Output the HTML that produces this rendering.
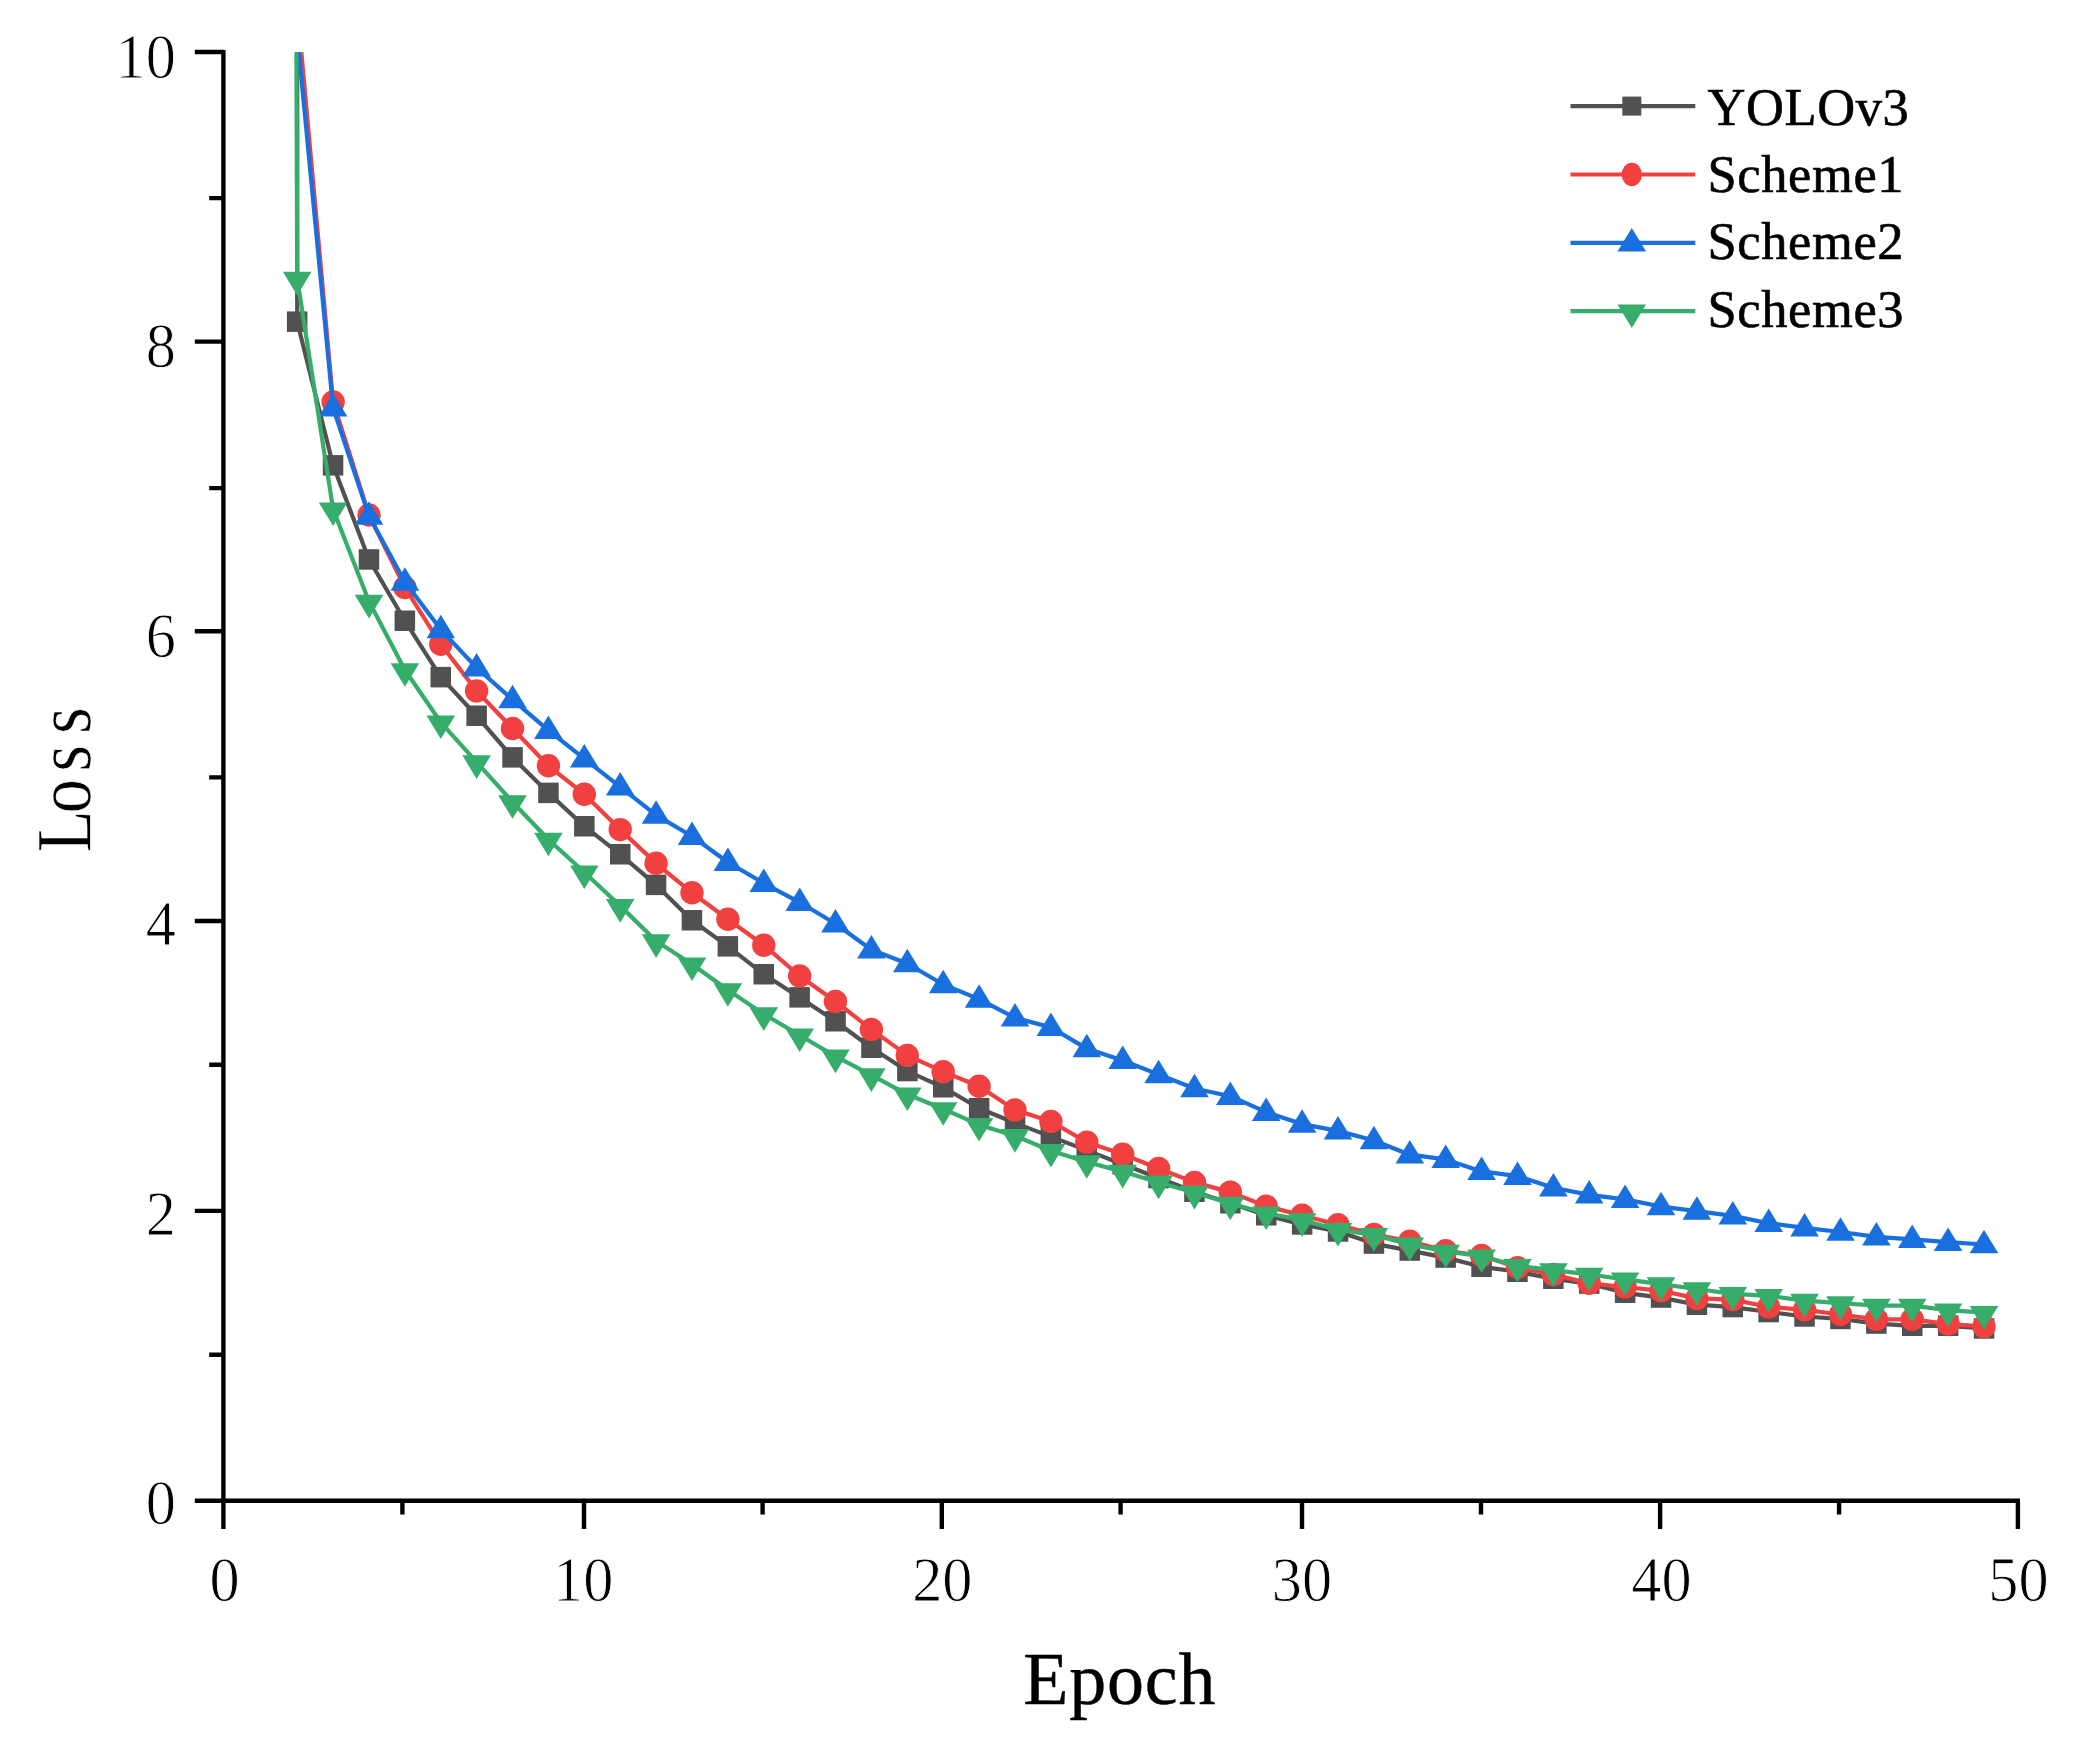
<!DOCTYPE html>
<html lang="en"><head><meta charset="utf-8"><title>Loss vs Epoch</title>
<style>html,body{margin:0;padding:0;background:#fff}body{width:2078px;height:1752px;overflow:hidden}svg{display:block}text{font-family:"Liberation Serif","Times New Roman",serif;fill:#000}</style>
</head><body>
<svg width="2078" height="1752" viewBox="0 0 2078 1752">
<rect width="2078" height="1752" fill="#fff"/>
<g fill="#515151" stroke="none">
<polyline points="297.2,52.2 297.2,321.7 333.1,465.3 369,559.5 404.9,620.8 440.8,677.1 476.6,715.8 512.5,757.4 548.4,792.9 584.3,826.2 620.2,854.3 656.1,884.9 692,920.2 727.9,946.4 763.8,974.2 799.7,997.4 835.5,1021.2 871.4,1047.7 907.3,1071.1 943.2,1087.3 979.1,1108.3 1015,1123 1050.9,1136.6 1086.8,1150.4 1122.7,1164.2 1158.6,1178 1194.5,1191.7 1230.3,1203.2 1266.2,1215.3 1302.1,1224.4 1338,1231.5 1373.9,1243.6 1409.8,1250.6 1445.7,1257.6 1481.6,1266.8 1517.5,1271.7 1553.4,1278.8 1589.2,1283.6 1625.1,1292.8 1661,1297.6 1696.9,1304.7 1732.8,1307.1 1768.7,1312 1804.6,1316.5 1840.5,1318.9 1876.4,1323.6 1912.2,1325.8 1948.1,1325.8 1984,1328.4" fill="none" stroke="#515151" stroke-width="4.2" stroke-linejoin="round"/>
<rect x="286.9" y="311.4" width="20.5" height="20.5"/><rect x="322.8" y="455.1" width="20.5" height="20.5"/><rect x="358.7" y="549.2" width="20.5" height="20.5"/><rect x="394.6" y="610.5" width="20.5" height="20.5"/><rect x="430.5" y="666.9" width="20.5" height="20.5"/><rect x="466.4" y="705.5" width="20.5" height="20.5"/><rect x="502.3" y="747.1" width="20.5" height="20.5"/><rect x="538.2" y="782.6" width="20.5" height="20.5"/><rect x="574.1" y="816" width="20.5" height="20.5"/><rect x="610" y="844" width="20.5" height="20.5"/><rect x="645.8" y="874.6" width="20.5" height="20.5"/><rect x="681.7" y="910" width="20.5" height="20.5"/><rect x="717.6" y="936.1" width="20.5" height="20.5"/><rect x="753.5" y="964" width="20.5" height="20.5"/><rect x="789.4" y="987.1" width="20.5" height="20.5"/><rect x="825.3" y="1011" width="20.5" height="20.5"/><rect x="861.2" y="1037.5" width="20.5" height="20.5"/><rect x="897.1" y="1060.8" width="20.5" height="20.5"/><rect x="933" y="1077" width="20.5" height="20.5"/><rect x="968.9" y="1098" width="20.5" height="20.5"/><rect x="1004.8" y="1112.8" width="20.5" height="20.5"/><rect x="1040.6" y="1126.3" width="20.5" height="20.5"/><rect x="1076.5" y="1140.2" width="20.5" height="20.5"/><rect x="1112.4" y="1154" width="20.5" height="20.5"/><rect x="1148.3" y="1167.8" width="20.5" height="20.5"/><rect x="1184.2" y="1181.5" width="20.5" height="20.5"/><rect x="1220.1" y="1193" width="20.5" height="20.5"/><rect x="1256" y="1205" width="20.5" height="20.5"/><rect x="1291.9" y="1214.2" width="20.5" height="20.5"/><rect x="1327.8" y="1221.2" width="20.5" height="20.5"/><rect x="1363.7" y="1233.3" width="20.5" height="20.5"/><rect x="1399.5" y="1240.3" width="20.5" height="20.5"/><rect x="1435.4" y="1247.3" width="20.5" height="20.5"/><rect x="1471.3" y="1256.5" width="20.5" height="20.5"/><rect x="1507.2" y="1261.5" width="20.5" height="20.5"/><rect x="1543.1" y="1268.5" width="20.5" height="20.5"/><rect x="1579" y="1273.3" width="20.5" height="20.5"/><rect x="1614.9" y="1282.5" width="20.5" height="20.5"/><rect x="1650.8" y="1287.3" width="20.5" height="20.5"/><rect x="1686.7" y="1294.5" width="20.5" height="20.5"/><rect x="1722.5" y="1296.8" width="20.5" height="20.5"/><rect x="1758.4" y="1301.8" width="20.5" height="20.5"/><rect x="1794.3" y="1306.2" width="20.5" height="20.5"/><rect x="1830.2" y="1308.7" width="20.5" height="20.5"/><rect x="1866.1" y="1313.3" width="20.5" height="20.5"/><rect x="1902" y="1315.5" width="20.5" height="20.5"/><rect x="1937.9" y="1315.5" width="20.5" height="20.5"/><rect x="1973.8" y="1318.2" width="20.5" height="20.5"/>
</g>
<g fill="#F14040" stroke="none">
<polyline points="301.3,52.2 333.1,402 369,515 404.9,587.5 440.8,644.3 476.6,690.9 512.5,728.5 548.4,765.8 584.3,794.2 620.2,829.6 656.1,863.3 692,892.8 727.9,919.3 763.8,945.2 799.7,976 835.5,1001.5 871.4,1029.4 907.3,1055.4 943.2,1071.7 979.1,1086.2 1015,1109.9 1050.9,1121.4 1086.8,1142.2 1122.7,1154.2 1158.6,1168.5 1194.5,1182.4 1230.3,1192.1 1266.2,1206.3 1302.1,1215.2 1338,1224.8 1373.9,1234.4 1409.8,1241.2 1445.7,1250.8 1481.6,1255.5 1517.5,1267.6 1553.4,1274.5 1589.2,1283.3 1625.1,1287 1661,1290.8 1696.9,1298.4 1732.8,1299.6 1768.7,1307 1804.6,1309.8 1840.5,1314.5 1876.4,1319.3 1912.2,1319.3 1948.1,1324.1 1984,1326.4" fill="none" stroke="#F14040" stroke-width="4.2" stroke-linejoin="round"/>
<ellipse cx="333.1" cy="402" rx="11.7" ry="11.7"/><ellipse cx="369" cy="515" rx="11.7" ry="11.7"/><ellipse cx="404.9" cy="587.5" rx="11.7" ry="11.7"/><ellipse cx="440.8" cy="644.3" rx="11.7" ry="11.7"/><ellipse cx="476.6" cy="690.9" rx="11.7" ry="11.7"/><ellipse cx="512.5" cy="728.5" rx="11.7" ry="11.7"/><ellipse cx="548.4" cy="765.8" rx="11.7" ry="11.7"/><ellipse cx="584.3" cy="794.2" rx="11.7" ry="11.7"/><ellipse cx="620.2" cy="829.6" rx="11.7" ry="11.7"/><ellipse cx="656.1" cy="863.3" rx="11.7" ry="11.7"/><ellipse cx="692" cy="892.8" rx="11.7" ry="11.7"/><ellipse cx="727.9" cy="919.3" rx="11.7" ry="11.7"/><ellipse cx="763.8" cy="945.2" rx="11.7" ry="11.7"/><ellipse cx="799.7" cy="976" rx="11.7" ry="11.7"/><ellipse cx="835.5" cy="1001.5" rx="11.7" ry="11.7"/><ellipse cx="871.4" cy="1029.4" rx="11.7" ry="11.7"/><ellipse cx="907.3" cy="1055.4" rx="11.7" ry="11.7"/><ellipse cx="943.2" cy="1071.7" rx="11.7" ry="11.7"/><ellipse cx="979.1" cy="1086.2" rx="11.7" ry="11.7"/><ellipse cx="1015" cy="1109.9" rx="11.7" ry="11.7"/><ellipse cx="1050.9" cy="1121.4" rx="11.7" ry="11.7"/><ellipse cx="1086.8" cy="1142.2" rx="11.7" ry="11.7"/><ellipse cx="1122.7" cy="1154.2" rx="11.7" ry="11.7"/><ellipse cx="1158.6" cy="1168.5" rx="11.7" ry="11.7"/><ellipse cx="1194.5" cy="1182.4" rx="11.7" ry="11.7"/><ellipse cx="1230.3" cy="1192.1" rx="11.7" ry="11.7"/><ellipse cx="1266.2" cy="1206.3" rx="11.7" ry="11.7"/><ellipse cx="1302.1" cy="1215.2" rx="11.7" ry="11.7"/><ellipse cx="1338" cy="1224.8" rx="11.7" ry="11.7"/><ellipse cx="1373.9" cy="1234.4" rx="11.7" ry="11.7"/><ellipse cx="1409.8" cy="1241.2" rx="11.7" ry="11.7"/><ellipse cx="1445.7" cy="1250.8" rx="11.7" ry="11.7"/><ellipse cx="1481.6" cy="1255.5" rx="11.7" ry="11.7"/><ellipse cx="1517.5" cy="1267.6" rx="11.7" ry="11.7"/><ellipse cx="1553.4" cy="1274.5" rx="11.7" ry="11.7"/><ellipse cx="1589.2" cy="1283.3" rx="11.7" ry="11.7"/><ellipse cx="1625.1" cy="1287" rx="11.7" ry="11.7"/><ellipse cx="1661" cy="1290.8" rx="11.7" ry="11.7"/><ellipse cx="1696.9" cy="1298.4" rx="11.7" ry="11.7"/><ellipse cx="1732.8" cy="1299.6" rx="11.7" ry="11.7"/><ellipse cx="1768.7" cy="1307" rx="11.7" ry="11.7"/><ellipse cx="1804.6" cy="1309.8" rx="11.7" ry="11.7"/><ellipse cx="1840.5" cy="1314.5" rx="11.7" ry="11.7"/><ellipse cx="1876.4" cy="1319.3" rx="11.7" ry="11.7"/><ellipse cx="1912.2" cy="1319.3" rx="11.7" ry="11.7"/><ellipse cx="1948.1" cy="1324.1" rx="11.7" ry="11.7"/><ellipse cx="1984" cy="1326.4" rx="11.7" ry="11.7"/>
</g>
<g fill="#1A6FDF" stroke="none">
<polyline points="298.9,52.2 333.1,407.9 369,516.1 404.9,582.1 440.8,629.6 476.6,667.7 512.5,699.6 548.4,730.4 584.3,758.7 620.2,786.8 656.1,815.1 692,836.3 727.9,862.3 763.8,883.3 799.7,902.3 835.5,923.7 871.4,949.7 907.3,963.5 943.2,984.5 979.1,999.1 1015,1017.8 1050.9,1027.4 1086.8,1048.6 1122.7,1060.4 1158.6,1074.5 1194.5,1088.5 1230.3,1096.2 1266.2,1112.2 1302.1,1124.1 1338,1130.9 1373.9,1140.5 1409.8,1154.7 1445.7,1159.4 1481.6,1171.4 1517.5,1176.2 1553.4,1187.8 1589.2,1194.9 1625.1,1199.3 1661,1206.6 1696.9,1211.1 1732.8,1215.9 1768.7,1223.2 1804.6,1227.9 1840.5,1232 1876.4,1236.8 1912.2,1239.3 1948.1,1242.2 1984,1244.5" fill="none" stroke="#1A6FDF" stroke-width="4.2" stroke-linejoin="round"/>
<path d="M333.1 393.1L347.4 416.6L318.8 416.6Z"/><path d="M369 501.3L383.3 524.8L354.7 524.8Z"/><path d="M404.9 567.3L419.2 590.8L390.6 590.8Z"/><path d="M440.8 614.8L455.1 638.3L426.5 638.3Z"/><path d="M476.6 652.9L490.9 676.4L462.3 676.4Z"/><path d="M512.5 684.8L526.8 708.3L498.2 708.3Z"/><path d="M548.4 715.6L562.7 739.1L534.1 739.1Z"/><path d="M584.3 743.9L598.6 767.4L570 767.4Z"/><path d="M620.2 772L634.5 795.5L605.9 795.5Z"/><path d="M656.1 800.3L670.4 823.8L641.8 823.8Z"/><path d="M692 821.5L706.3 845L677.7 845Z"/><path d="M727.9 847.5L742.2 871L713.6 871Z"/><path d="M763.8 868.5L778.1 892L749.5 892Z"/><path d="M799.7 887.5L814 911L785.4 911Z"/><path d="M835.5 908.9L849.8 932.4L821.2 932.4Z"/><path d="M871.4 934.9L885.7 958.4L857.1 958.4Z"/><path d="M907.3 948.7L921.6 972.2L893 972.2Z"/><path d="M943.2 969.7L957.5 993.2L928.9 993.2Z"/><path d="M979.1 984.3L993.4 1007.8L964.8 1007.8Z"/><path d="M1015 1003L1029.3 1026.5L1000.7 1026.5Z"/><path d="M1050.9 1012.6L1065.2 1036.1L1036.6 1036.1Z"/><path d="M1086.8 1033.8L1101.1 1057.3L1072.5 1057.3Z"/><path d="M1122.7 1045.6L1137 1069.1L1108.4 1069.1Z"/><path d="M1158.6 1059.7L1172.9 1083.2L1144.3 1083.2Z"/><path d="M1194.5 1073.7L1208.8 1097.2L1180.2 1097.2Z"/><path d="M1230.3 1081.4L1244.6 1104.9L1216 1104.9Z"/><path d="M1266.2 1097.4L1280.5 1120.9L1251.9 1120.9Z"/><path d="M1302.1 1109.3L1316.4 1132.8L1287.8 1132.8Z"/><path d="M1338 1116.1L1352.3 1139.6L1323.7 1139.6Z"/><path d="M1373.9 1125.7L1388.2 1149.2L1359.6 1149.2Z"/><path d="M1409.8 1139.9L1424.1 1163.4L1395.5 1163.4Z"/><path d="M1445.7 1144.6L1460 1168.1L1431.4 1168.1Z"/><path d="M1481.6 1156.6L1495.9 1180.1L1467.3 1180.1Z"/><path d="M1517.5 1161.4L1531.8 1184.9L1503.2 1184.9Z"/><path d="M1553.4 1173L1567.7 1196.5L1539.1 1196.5Z"/><path d="M1589.2 1180.1L1603.5 1203.6L1574.9 1203.6Z"/><path d="M1625.1 1184.5L1639.4 1208L1610.8 1208Z"/><path d="M1661 1191.8L1675.3 1215.3L1646.7 1215.3Z"/><path d="M1696.9 1196.3L1711.2 1219.8L1682.6 1219.8Z"/><path d="M1732.8 1201.1L1747.1 1224.6L1718.5 1224.6Z"/><path d="M1768.7 1208.4L1783 1231.9L1754.4 1231.9Z"/><path d="M1804.6 1213.1L1818.9 1236.6L1790.3 1236.6Z"/><path d="M1840.5 1217.2L1854.8 1240.7L1826.2 1240.7Z"/><path d="M1876.4 1222L1890.7 1245.5L1862.1 1245.5Z"/><path d="M1912.2 1224.5L1926.5 1248L1898 1248Z"/><path d="M1948.1 1227.4L1962.4 1250.9L1933.8 1250.9Z"/><path d="M1984 1229.7L1998.3 1253.2L1969.7 1253.2Z"/>
</g>
<g fill="#37AD6B" stroke="none">
<polyline points="296.4,52.2 297.2,278.6 333.1,509.2 369,601.6 404.9,670 440.8,722.3 476.6,762.1 512.5,802 548.4,839.5 584.3,872.2 620.2,905.9 656.1,941.1 692,964.2 727.9,990 763.8,1014.1 799.7,1035.2 835.5,1056.4 871.4,1075.1 907.3,1094.3 943.2,1109 979.1,1124.7 1015,1135.9 1050.9,1150.7 1086.8,1162 1122.7,1171.6 1158.6,1182.4 1194.5,1192.6 1230.3,1203.5 1266.2,1213.2 1302.1,1220.1 1338,1229.7 1373.9,1234.9 1409.8,1244.4 1445.7,1251.5 1481.6,1256.2 1517.5,1265.8 1553.4,1270.1 1589.2,1274.5 1625.1,1279.3 1661,1284.1 1696.9,1289 1732.8,1293.8 1768.7,1295.8 1804.6,1300.6 1840.5,1303.1 1876.4,1305.6 1912.2,1305.6 1948.1,1310.2 1984,1312.7" fill="none" stroke="#37AD6B" stroke-width="4.2" stroke-linejoin="round"/>
<path d="M297.2 295.4L311.5 271.8L282.9 271.8Z"/><path d="M333.1 526L347.4 502.4L318.8 502.4Z"/><path d="M369 618.4L383.3 594.8L354.7 594.8Z"/><path d="M404.9 686.8L419.2 663.2L390.6 663.2Z"/><path d="M440.8 739.1L455.1 715.5L426.5 715.5Z"/><path d="M476.6 778.9L490.9 755.3L462.3 755.3Z"/><path d="M512.5 818.8L526.8 795.2L498.2 795.2Z"/><path d="M548.4 856.3L562.7 832.7L534.1 832.7Z"/><path d="M584.3 889L598.6 865.4L570 865.4Z"/><path d="M620.2 922.7L634.5 899.1L605.9 899.1Z"/><path d="M656.1 957.9L670.4 934.3L641.8 934.3Z"/><path d="M692 981L706.3 957.4L677.7 957.4Z"/><path d="M727.9 1006.8L742.2 983.2L713.6 983.2Z"/><path d="M763.8 1030.9L778.1 1007.3L749.5 1007.3Z"/><path d="M799.7 1052L814 1028.4L785.4 1028.4Z"/><path d="M835.5 1073.2L849.8 1049.6L821.2 1049.6Z"/><path d="M871.4 1091.9L885.7 1068.3L857.1 1068.3Z"/><path d="M907.3 1111.1L921.6 1087.5L893 1087.5Z"/><path d="M943.2 1125.8L957.5 1102.2L928.9 1102.2Z"/><path d="M979.1 1141.5L993.4 1117.9L964.8 1117.9Z"/><path d="M1015 1152.7L1029.3 1129.1L1000.7 1129.1Z"/><path d="M1050.9 1167.5L1065.2 1143.9L1036.6 1143.9Z"/><path d="M1086.8 1178.8L1101.1 1155.2L1072.5 1155.2Z"/><path d="M1122.7 1188.4L1137 1164.8L1108.4 1164.8Z"/><path d="M1158.6 1199.2L1172.9 1175.6L1144.3 1175.6Z"/><path d="M1194.5 1209.4L1208.8 1185.8L1180.2 1185.8Z"/><path d="M1230.3 1220.3L1244.6 1196.7L1216 1196.7Z"/><path d="M1266.2 1230L1280.5 1206.4L1251.9 1206.4Z"/><path d="M1302.1 1236.9L1316.4 1213.3L1287.8 1213.3Z"/><path d="M1338 1246.5L1352.3 1222.9L1323.7 1222.9Z"/><path d="M1373.9 1251.7L1388.2 1228.1L1359.6 1228.1Z"/><path d="M1409.8 1261.2L1424.1 1237.6L1395.5 1237.6Z"/><path d="M1445.7 1268.3L1460 1244.7L1431.4 1244.7Z"/><path d="M1481.6 1273L1495.9 1249.4L1467.3 1249.4Z"/><path d="M1517.5 1282.6L1531.8 1259L1503.2 1259Z"/><path d="M1553.4 1286.9L1567.7 1263.3L1539.1 1263.3Z"/><path d="M1589.2 1291.3L1603.5 1267.7L1574.9 1267.7Z"/><path d="M1625.1 1296.1L1639.4 1272.5L1610.8 1272.5Z"/><path d="M1661 1300.9L1675.3 1277.3L1646.7 1277.3Z"/><path d="M1696.9 1305.8L1711.2 1282.2L1682.6 1282.2Z"/><path d="M1732.8 1310.6L1747.1 1287L1718.5 1287Z"/><path d="M1768.7 1312.6L1783 1289L1754.4 1289Z"/><path d="M1804.6 1317.4L1818.9 1293.8L1790.3 1293.8Z"/><path d="M1840.5 1319.9L1854.8 1296.3L1826.2 1296.3Z"/><path d="M1876.4 1322.4L1890.7 1298.8L1862.1 1298.8Z"/><path d="M1912.2 1322.4L1926.5 1298.8L1898 1298.8Z"/><path d="M1948.1 1327L1962.4 1303.4L1933.8 1303.4Z"/><path d="M1984 1329.5L1998.3 1305.9L1969.7 1305.9Z"/>
</g>
<g stroke="#000" stroke-width="4.4" fill="none" stroke-linecap="butt">
<path d="M223.4 50V1529"/>
<path d="M194.8 1500.8H2020"/>
<path d="M209.2 1354.8H223.4M194.8 1210.9H223.4M209.2 1064.8H223.4M194.8 921H223.4M209.2 777.4H223.4M194.8 631.3H223.4M209.2 488.1H223.4M194.8 341.6H223.4M209.2 198.1H223.4M194.8 52H223.4"/>
<path d="M402.4 1500.8V1514.5M584 1500.8V1529M762.6 1500.8V1514.5M941.8 1500.8V1529M1120.6 1500.8V1514.5M1302 1500.8V1529M1481 1500.8V1514.5M1660.1 1500.8V1529M1839.1 1500.8V1514.5M2017.9 1500.8V1529"/>
</g>
<g font-size="63.8" stroke="#fff" stroke-width="0.9">
<text transform="translate(175.9 1524) scale(0.945 1)" text-anchor="end">0</text>
<text transform="translate(175.9 1234.5) scale(0.945 1)" text-anchor="end">2</text>
<text transform="translate(175.9 944.9) scale(0.945 1)" text-anchor="end">4</text>
<text transform="translate(175.9 657.3) scale(0.945 1)" text-anchor="end">6</text>
<text transform="translate(175.9 366.8) scale(0.945 1)" text-anchor="end">8</text>
<text transform="translate(175.9 77.9) scale(0.945 1)" text-anchor="end">10</text>
<text transform="translate(224.5 1601) scale(0.945 1)" text-anchor="middle">0</text>
<text transform="translate(583.2 1601) scale(0.945 1)" text-anchor="middle">10</text>
<text transform="translate(942.3 1601) scale(0.945 1)" text-anchor="middle">20</text>
<text transform="translate(1302 1601) scale(0.945 1)" text-anchor="middle">30</text>
<text transform="translate(1661.5 1601) scale(0.945 1)" text-anchor="middle">40</text>
<text transform="translate(2018.4 1601) scale(0.945 1)" text-anchor="middle">50</text>
</g>
<text x="1023.2" y="1704" font-size="74" letter-spacing="0.8" stroke="#000" stroke-width="0.4">Epoch</text>
<text transform="translate(89.5 851.5) rotate(-90) scale(0.88 1)" font-size="78" x="-0.9 43.2 90.5 133.5" y="0" stroke="#fff" stroke-width="0.6">Loss</text>
<g fill="#515151"><path d="M1570.5 106.1H1695.3" stroke="#515151" stroke-width="4.2" fill="none"/><rect x="1622.3" y="96.6" width="19" height="19"/></g>
<g fill="#F14040"><path d="M1570.5 174.5H1695.3" stroke="#F14040" stroke-width="4.2" fill="none"/><ellipse cx="1631.8" cy="174.5" rx="10.2" ry="11.8"/></g>
<g fill="#1A6FDF"><path d="M1570.5 242.9H1695.3" stroke="#1A6FDF" stroke-width="4.2" fill="none"/><path d="M1631.8 228.1L1646.1 251.6L1617.5 251.6Z"/></g>
<g fill="#37AD6B"><path d="M1570.5 311.2H1695.3" stroke="#37AD6B" stroke-width="4.2" fill="none"/><path d="M1631.8 328L1646.1 304.4L1617.5 304.4Z"/></g>
<g font-size="52.5" letter-spacing="0.6" stroke="#000" stroke-width="0.6">
<text x="1707.5" y="124.5">YOLOv3</text>
<text x="1707.5" y="192.3">Scheme1</text>
<text x="1707.5" y="259.3">Scheme2</text>
<text x="1707.5" y="327.2">Scheme3</text>
</g>
</svg>
</body></html>
